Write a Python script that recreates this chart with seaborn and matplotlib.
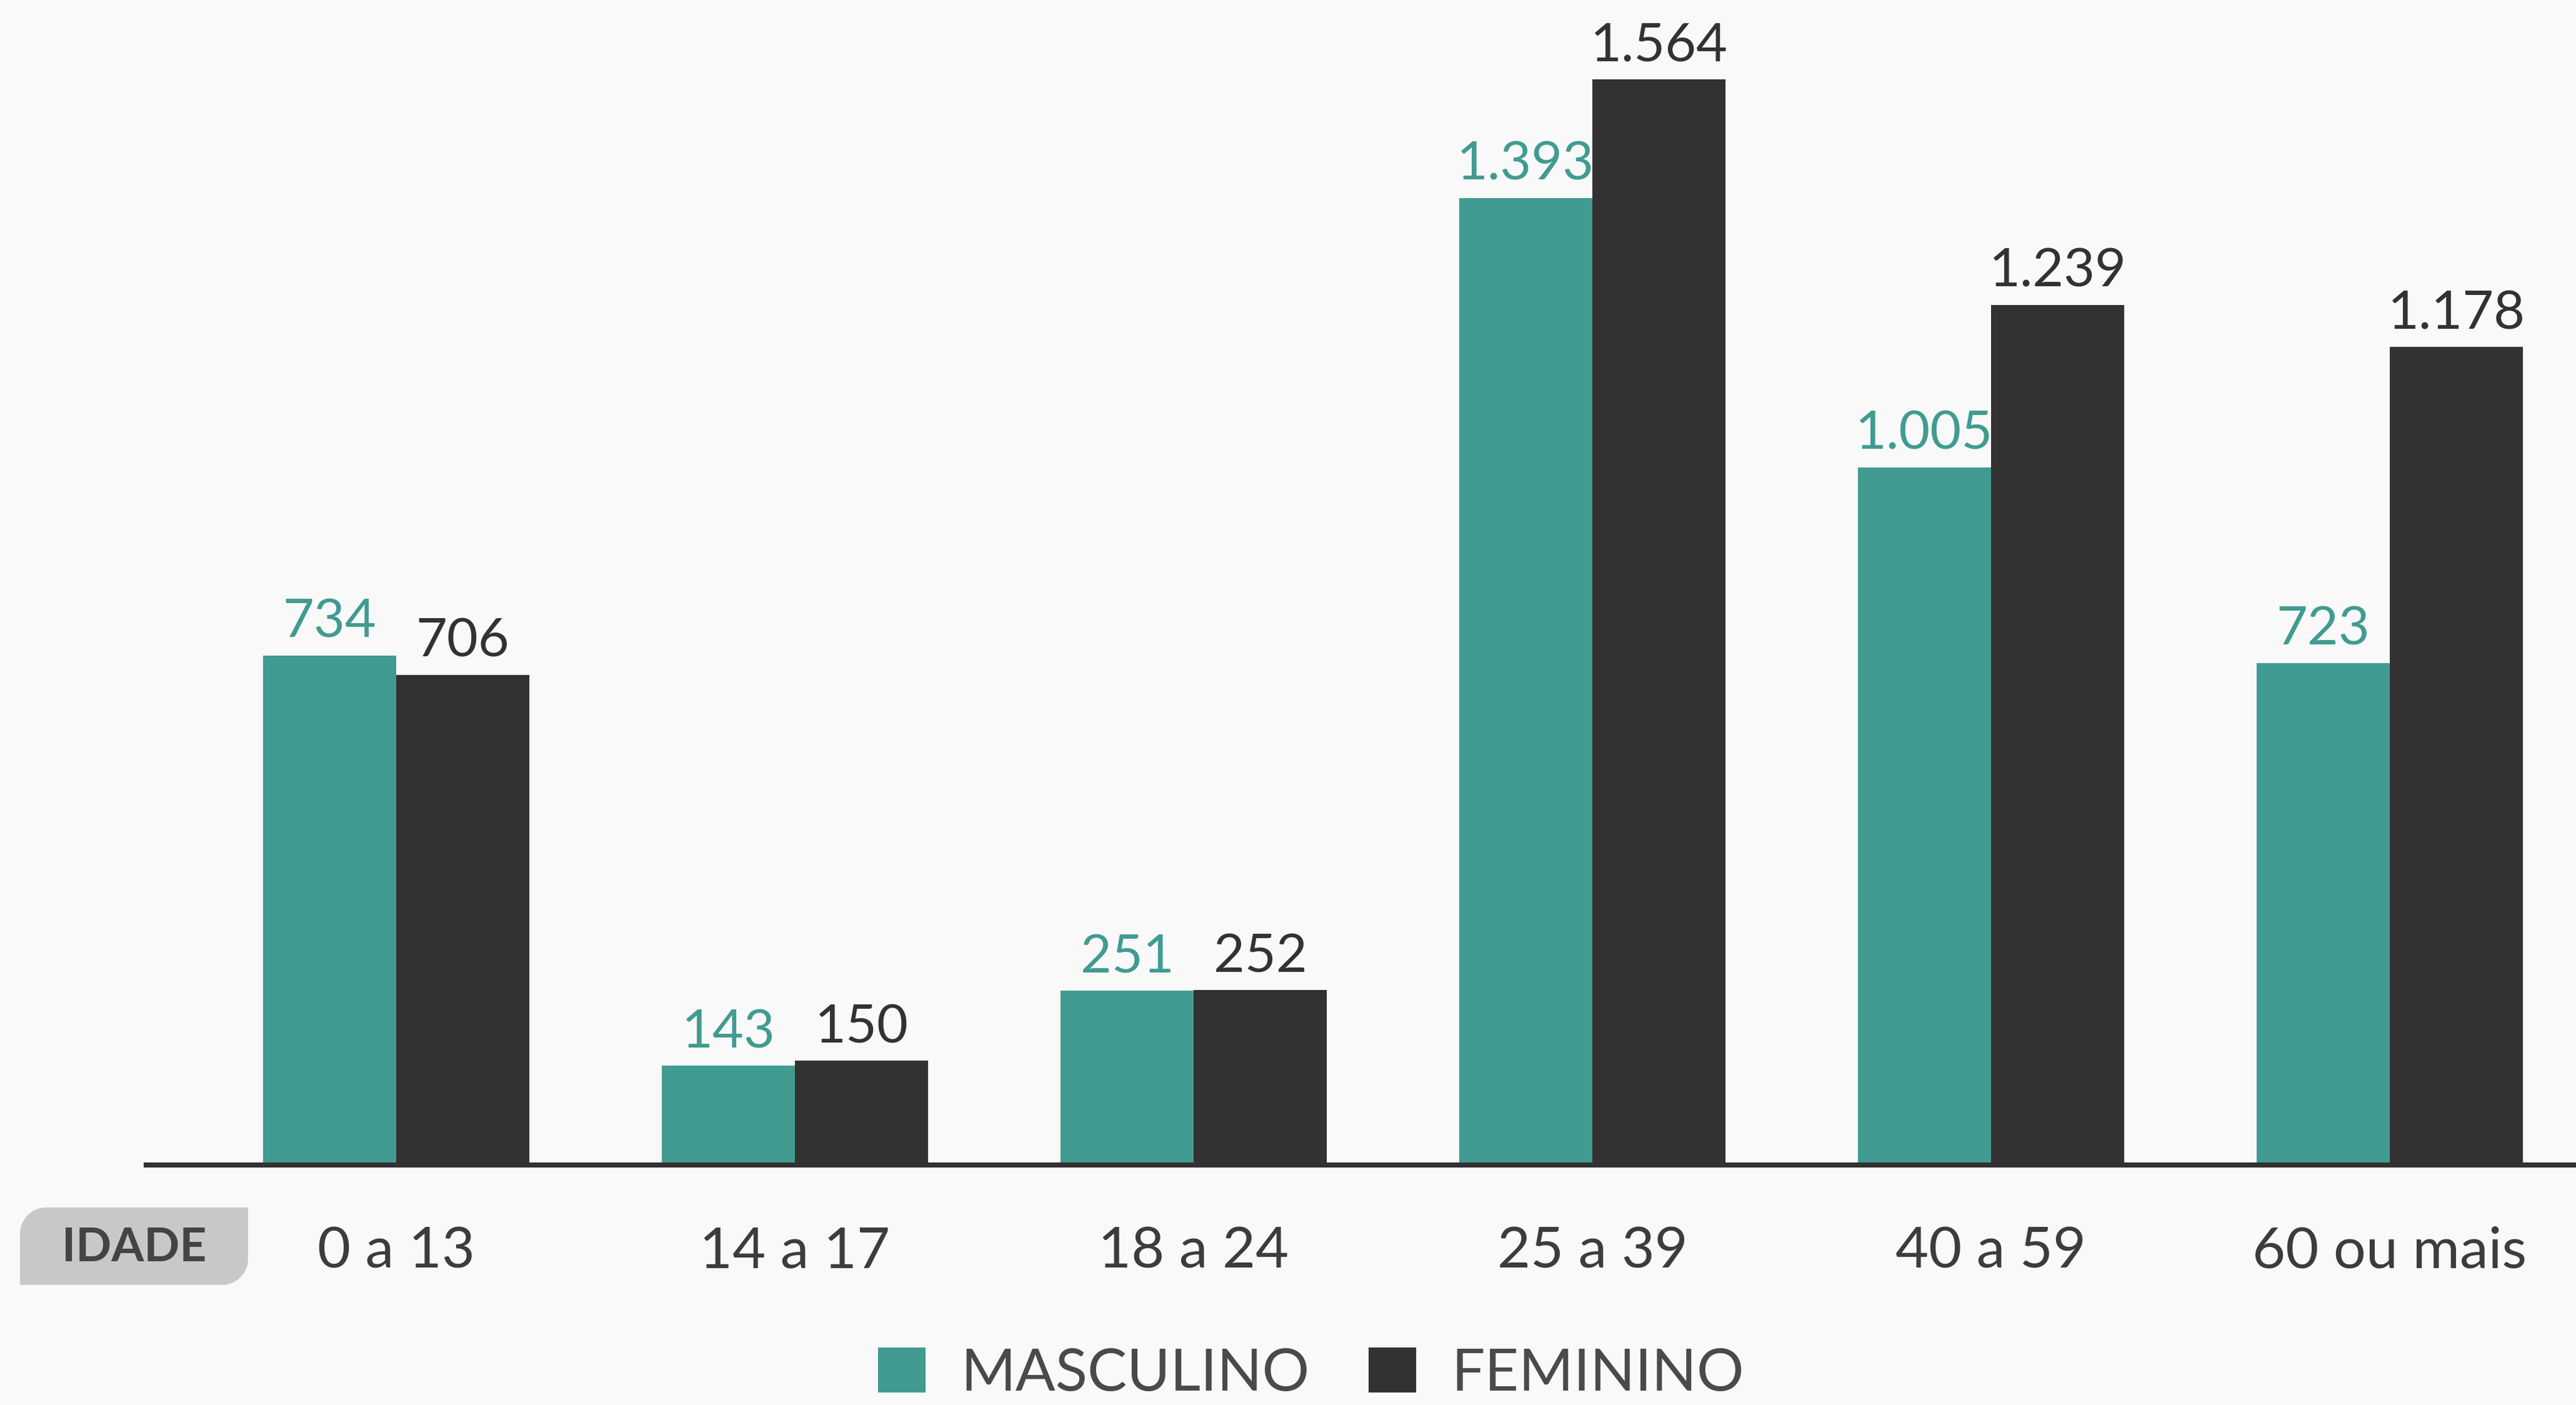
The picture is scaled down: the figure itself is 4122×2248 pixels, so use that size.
import numpy as np
import pandas as pd
import matplotlib
matplotlib.use('Agg')
import matplotlib.pyplot as plt
import seaborn as sns
from matplotlib.patches import Patch, PathPatch
from matplotlib.path import Path

faixas = ['0 a 13', '14 a 17', '18 a 24', '25 a 39', '40 a 59', '60 ou mais']
masculino = [734, 143, 251, 1393, 1005, 723]
feminino = [706, 150, 252, 1564, 1239, 1178]
sexos = ['MASCULINO', 'FEMININO']

TEAL = '#419b91'
DARK = '#343132'
BG = '#f9f9f9'
TXT = '#3c3c3c'

df = pd.DataFrame({
    'faixa': faixas * 2,
    'total': masculino + feminino,
    'sexo': [sexos[0]] * len(faixas) + [sexos[1]] * len(faixas),
})

sns.set_style('white')
plt.rcParams['font.family'] = ['Lato', 'DejaVu Sans']

W, H = 4122, 2248
fig = plt.figure(figsize=(W / 200, H / 200), dpi=200, facecolor=BG)
ax = fig.add_axes([234 / W, 384 / H, 1 - 234 / W, 1864 / H])
ax.set_facecolor(BG)

sns.barplot(data=df, x='faixa', y='total', hue='sexo', palette=[TEAL, DARK],
            width=0.668, saturation=1, legend=False, linewidth=0,
            edgecolor='none', ax=ax)

ax.set_xlim(-0.627, 5.467)
ax.set_ylim(0, 1678)
for s in ['top', 'right', 'left']:
    ax.spines[s].set_visible(False)
ax.spines['bottom'].set_color(DARK)
ax.spines['bottom'].set_linewidth(2.9)
ax.set_yticks([])
ax.set_xlabel('')
ax.set_ylabel('')
ax.tick_params(axis='x', length=0, pad=35, labelsize=33, labelcolor=TXT)

def fmt(v):
    return f"{v:,.0f}".replace(',', '.')

for cont, col in zip(ax.containers, [TEAL, DARK]):
    ax.bar_label(cont, labels=[fmt(b.get_height()) for b in cont],
                 padding=5, fontsize=31, color=col)

# IDADE tag (rounded top-left and bottom-right corners)
x0, x1, y0, y1, r = 32, 397, H - 2056, H - 1932, 42
k = 0.55
verts = [
    (x0, y0), (x1 - r, y0),
    (x1 - r + r * k, y0), (x1, y0 + r - r * k), (x1, y0 + r),
    (x1, y1), (x0 + r, y1),
    (x0 + r - r * k, y1), (x0, y1 - r + r * k), (x0, y1 - r),
    (x0, y0),
]
codes = [Path.MOVETO, Path.LINETO,
         Path.CURVE4, Path.CURVE4, Path.CURVE4,
         Path.LINETO, Path.LINETO,
         Path.CURVE4, Path.CURVE4, Path.CURVE4,
         Path.CLOSEPOLY]
verts = [(vx / W, vy / H) for vx, vy in verts]
fig.add_artist(PathPatch(Path(verts, codes), transform=fig.transFigure,
                         facecolor='#c8c8c8', edgecolor='none'))
fig.text(215 / W, (H - 1996) / H, 'IDADE', ha='center', va='center',
         fontsize=27, fontweight='bold', color='#444444')

handles = [Patch(facecolor=TEAL, edgecolor='none'), Patch(facecolor=DARK, edgecolor='none')]
fig.legend(handles, sexos, loc='lower center', bbox_to_anchor=(0.509, -0.022),
           ncol=2, frameon=False, prop={'size': 34, 'weight': 'normal'},
           handlelength=0.8, handleheight=0.8, borderpad=0.1,
           handletextpad=0.6, columnspacing=1.0, labelcolor='#4a4a4a')

fig.savefig('out.png', dpi=200, facecolor=BG)
